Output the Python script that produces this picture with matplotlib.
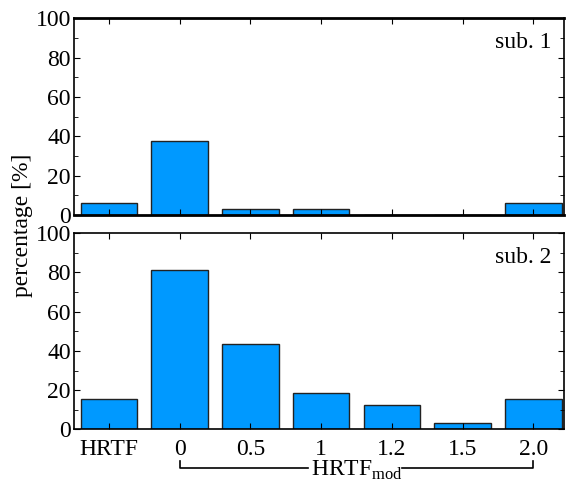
import matplotlib.pyplot as plt
from matplotlib.ticker import MultipleLocator
import matplotlib.transforms as mtrans

# categories (HRTF + HRTF_mod scaling factors)
categories = ["HRTF", "0", "0.5", "1", "1.2", "1.5", "2.0"]
# percentage per subject
sub1 = [6.25, 37.5, 3.125, 3.125, 0, 0, 6.25]
sub2 = [15.6, 81.25, 43.75, 18.75, 12.5, 3.125, 15.6]
panel_names = ["sub. 1", "sub. 2"]

plt.rcParams['font.family'] = ['Liberation Serif', 'DejaVu Serif']
plt.rcParams['mathtext.fontset'] = 'custom'
plt.rcParams['mathtext.rm'] = 'Liberation Serif'

fig = plt.figure(figsize=(5.66, 4.84), dpi=100)
ax1 = fig.add_axes([0.130, 0.556, 0.866, 0.406])
ax2 = fig.add_axes([0.130, 0.113, 0.866, 0.405])

x = list(range(len(categories)))
bar_color = "#0099FF"

for ax, vals, name in [(ax1, sub1, panel_names[0]), (ax2, sub2, panel_names[1])]:
    ax.bar(x, vals, width=0.8, color=bar_color, edgecolor="#222222", linewidth=1.0)
    ax.set_xlim(-0.5, 6.43)
    ax.set_ylim(0, 100)
    ax.set_xticks(x)
    ax.yaxis.set_major_locator(MultipleLocator(20))
    ax.yaxis.set_minor_locator(MultipleLocator(10))
    ax.tick_params(axis="both", which="major", direction="in", length=4,
                   top=True, right=True, labelsize=17, pad=2)
    ax.tick_params(axis="x", which="major", pad=7)
    ax.tick_params(axis="y", which="minor", direction="in", length=3, right=True, left=True)
    ax.tick_params(axis="y", which="major", right=True, length=4)
    ax.text(0.975, 0.93, name, transform=ax.transAxes, ha="right", va="top", fontsize=17)
    for s in ax.spines.values():
        s.set_linewidth(1.2)

ax1.spines["top"].set_linewidth(2)
ax1.spines["bottom"].set_linewidth(2)
ax1.set_xticklabels([])
ax2.set_xticklabels(categories)

fig.text(0.04, 0.535, "percentage [%]", rotation=90, ha="center", va="center", fontsize=17)

# bracket grouping the HRTF_mod categories (gap left for the label)
trans = mtrans.blended_transform_factory(ax2.transData, ax2.transAxes)
ax2.plot([1, 1, 2.82], [-0.16, -0.195, -0.195], color="black", lw=1.2,
         transform=trans, clip_on=False)
ax2.plot([4.15, 6, 6], [-0.195, -0.195, -0.16], color="black", lw=1.2,
         transform=trans, clip_on=False)
ax2.text(3.5, -0.21, r"HRTF$_{\mathrm{mod}}$", transform=trans, ha="center", va="center",
         fontsize=17)

fig.savefig("out.png", dpi=100)
